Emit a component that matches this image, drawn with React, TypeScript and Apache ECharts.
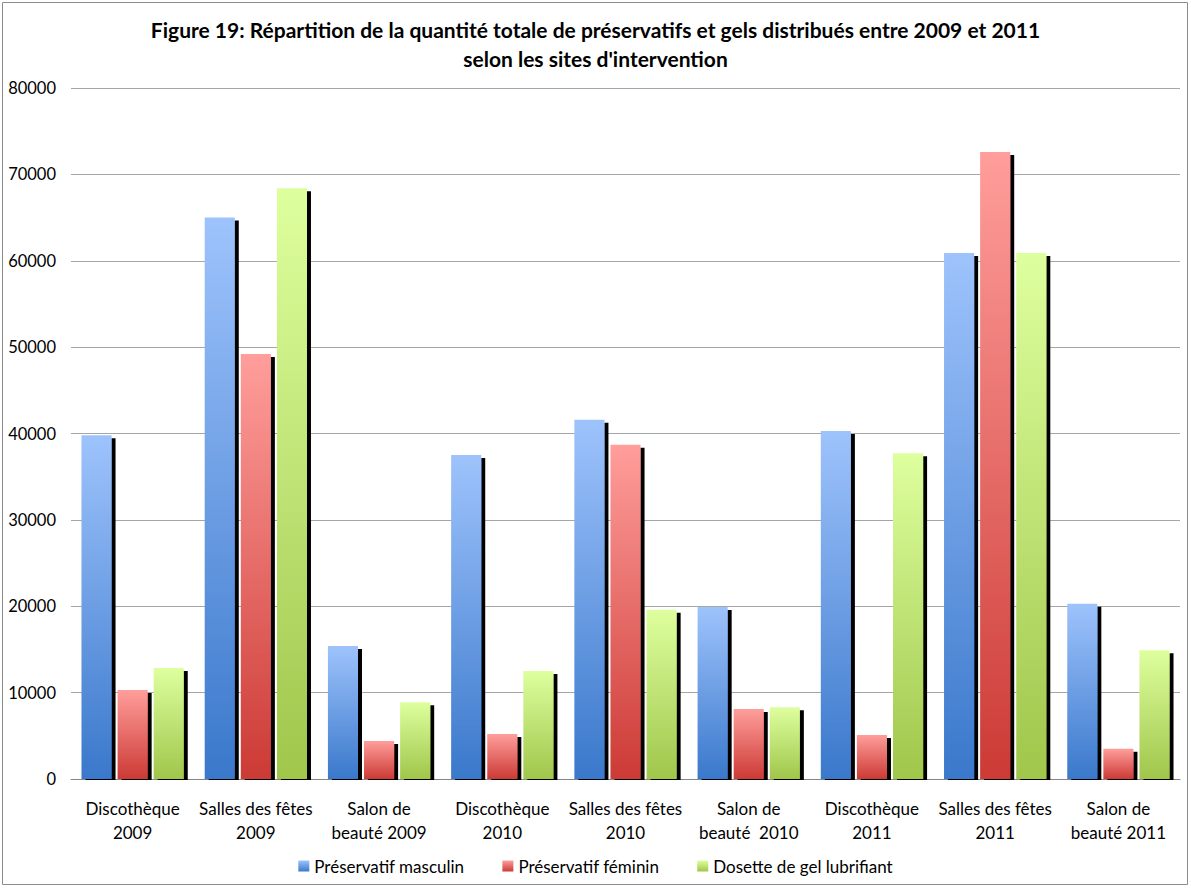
import React, { useEffect, useRef } from "react";
import * as echarts from "echarts";

// Sites d'intervention, par année
const categories = [
  "Discothèque\n2009",
  "Salles des fêtes\n2009",
  "Salon de\nbeauté 2009",
  "Discothèque\n2010",
  "Salles des fêtes\n2010",
  "Salon de\nbeauté  2010",
  "Discothèque\n2011",
  "Salles des fêtes\n2011",
  "Salon de\nbeauté 2011",
];

const seriesNames = [
  "Préservatif masculin",
  "Préservatif féminin",
  "Dosette de gel lubrifiant",
];

const preservatifMasculin = [39800, 65000, 15400, 37500, 41600, 19900, 40300, 60900, 20300];
const preservatifFeminin = [10300, 49200, 4400, 5200, 38700, 8100, 5100, 72600, 3500];
const doseteGel = [12850, 68400, 8900, 12500, 19600, 8300, 37700, 60900, 14900];

const yTicks = [0, 10000, 20000, 30000, 40000, 50000, 60000, 70000, 80000];

const titleText =
  "Figure 19: Répartition de la quantité totale de préservatifs et gels distribués entre 2009 et 2011\nselon les sites d'intervention";

const FONT = "Lato, 'Open Sans', sans-serif";

function grad(top: string, bottom: string) {
  return new echarts.graphic.LinearGradient(0, 0, 0, 1, [
    { offset: 0, color: top },
    { offset: 1, color: bottom },
  ]);
}

export default function App() {
  const ref = useRef<HTMLDivElement>(null);

  useEffect(() => {
    if (!ref.current) return;
    const chart = echarts.init(ref.current, undefined, { renderer: "svg" });

    const gridLeft = 71;
    const gridRight = 11;
    const gridTop = 88;
    const gridBottom = 109;
    const W = 1191;
    const H = 888;

    const barStyle = (top: string, bottom: string) => ({
      color: grad(top, bottom),
      shadowColor: "#000000",
      shadowBlur: 0,
      shadowOffsetX: 4,
      shadowOffsetY: 3,
    });

    const values = [preservatifMasculin, preservatifFeminin, doseteGel];
    const palette = [
      ["#9EC3FC", "#3A78CB"],
      ["#FF9E9B", "#CC3A35"],
      ["#DEFF9E", "#A0C64B"],
    ];

    chart.setOption({
      animation: false,
      backgroundColor: "#ffffff",
      textStyle: { fontFamily: FONT },
      title: {
        text: titleText,
        left: "center",
        top: 10,
        textStyle: {
          fontFamily: FONT,
          fontSize: 21,
          fontWeight: "bold",
          color: "#000000",
          lineHeight: 29,
          align: "center",
        },
      },
      graphic: [
        {
          type: "rect",
          shape: { x: 2.5, y: 2.5, width: W - 6, height: H - 6 },
          style: { fill: "none", stroke: "#8c8c8c", lineWidth: 1 },
          silent: true,
        },
        {
          // keeps the drop shadows from spilling under the category axis
          type: "rect",
          shape: {
            x: gridLeft,
            y: H - gridBottom + 1,
            width: W - gridLeft - gridRight + 6,
            height: 3,
          },
          style: { fill: "#ffffff" },
          silent: true,
          z: 50,
        },
      ],
      legend: {
        top: 851,
        left: "center",
        itemWidth: 11,
        itemHeight: 11,
        itemGap: 38,
        icon: "rect",
        textStyle: {
          fontFamily: FONT,
          fontSize: 17,
          lineHeight: 20,
          color: "#000000",
        },
        data: seriesNames,
      },
      grid: {
        left: gridLeft,
        right: gridRight,
        top: gridTop,
        bottom: gridBottom,
      },
      xAxis: {
        type: "category",
        data: categories,
        axisTick: { show: false },
        axisLine: { show: true, lineStyle: { color: "#868686", width: 1 } },
        axisLabel: {
          fontFamily: FONT,
          fontSize: 17,
          color: "#000000",
          lineHeight: 24,
          margin: 17,
          interval: 0,
        },
      },
      yAxis: {
        type: "value",
        min: yTicks[0],
        max: yTicks[yTicks.length - 1],
        interval: 10000,
        axisLine: { show: false },
        axisTick: { show: false },
        splitLine: { lineStyle: { color: "#a6a6a6", width: 1 } },
        axisLabel: {
          fontFamily: FONT,
          fontSize: 16.5,
          color: "#000000",
          margin: 15,
          formatter: (v: number) => String(v),
        },
      },
      series: values.map((data, i) => ({
        name: seriesNames[i],
        type: "bar",
        data,
        barGap: "20%",
        barCategoryGap: "17%",
        itemStyle: barStyle(palette[i][0], palette[i][1]),
      })),
    });

    return () => chart.dispose();
  }, []);

  return (
    <div
      ref={ref}
      style={{ position: "absolute", left: 0, top: 0, width: 1191, height: 888 }}
    />
  );
}
